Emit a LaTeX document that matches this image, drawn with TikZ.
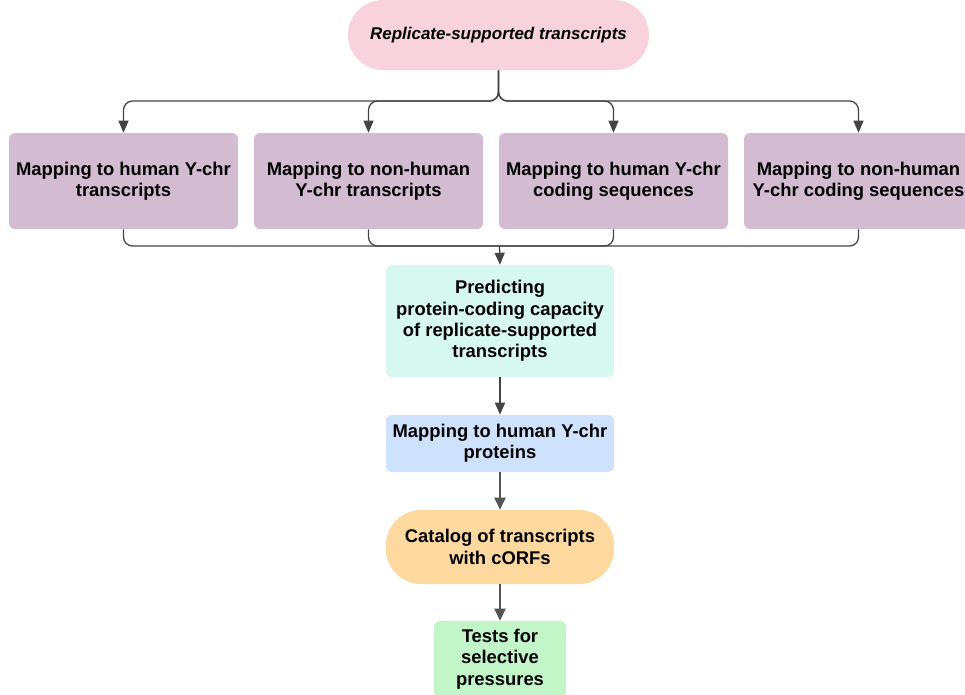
\documentclass[tikz,border=0pt]{standalone}
\usepackage{fontspec}
\setmainfont{Liberation Sans}
\usetikzlibrary{arrows.meta}
\definecolor{cpink}{RGB}{248,211,222}
\definecolor{cpurple}{RGB}{211,187,210}
\definecolor{cteal}{RGB}{214,248,241}
\definecolor{cblue}{RGB}{207,226,253}
\definecolor{corange}{RGB}{253,217,160}
\definecolor{cgreen}{RGB}{194,245,200}
\definecolor{carrow}{RGB}{68,68,68}
\definecolor{carrowb}{RGB}{85,85,85}
\tikzset{
  txt/.style={font=\fontsize{13.8pt}{16pt}\selectfont\bfseries, align=center, text=black, inner sep=0pt},
  mapbox/.style={txt, fill=cpurple, rounded corners={6*0.75pt}, minimum width={229*0.75pt}, minimum height={96*0.75pt}},
  flowbox/.style={txt, rounded corners={6*0.75pt}, minimum width={228*0.75pt}},
  stadium/.style={txt, rounded corners={35*0.75pt}},
  conn/.style={draw=carrow, line width={1.3*0.75pt}, rounded corners={9*0.75pt}},
  arr/.style={draw=carrow, line width={1.3*0.75pt}, -{Triangle[length={12*0.75pt}, width={10*0.75pt}]}},
  arrb/.style={draw=carrowb, line width={2*0.75pt}, -{Triangle[length={12*0.75pt}, width={11*0.75pt}]}},
}
\begin{document}
\begin{tikzpicture}[x=0.75pt,y=-0.75pt]
\useasboundingbox (0,0) rectangle (965,694);
\node[stadium, fill=cpink, minimum width={301*0.75pt}, minimum height={70*0.75pt}, font=\fontsize{12.75pt}{16pt}\selectfont\bfseries\itshape] (top) at (498.5,35) {Replicate-supported transcripts};
\node[mapbox] (b1) at (123.5,181) {Mapping to human Y-chr\\transcripts};
\node[mapbox] (b2) at (368.5,181) {Mapping to non-human\\Y-chr transcripts};
\node[mapbox] (b3) at (613.5,181) {Mapping to human Y-chr\\coding sequences};
\node[mapbox] (b4) at (858.5,181) {Mapping to non-human\\Y-chr coding sequences};
\node[flowbox, fill=cteal, minimum height={112*0.75pt}] (pred) at (500,321) {Predicting\\protein-coding capacity\\of replicate-supported\\transcripts};
\node[flowbox, fill=cblue, minimum height={57*0.75pt}] (prot) at (500,443.5) {Mapping to human Y-chr\\proteins};
\node[stadium, fill=corange, minimum width={228*0.75pt}, minimum height={74*0.75pt}] (cat) at (500,547) {Catalog of transcripts\\with cORFs};
\node[flowbox, fill=cgreen, minimum width={132*0.75pt}, minimum height={76*0.75pt}] (test) at (500,659) {Tests for\\selective\\pressures};
\coordinate (hub) at (498.5,101);
\coordinate (merge) at (499.5,246);
\foreach \b in {b1,b2,b3,b4}{
  \draw[conn, arr] (top.south) |- (hub) -| (\b.north);
  \draw[conn] (\b.south) |- (merge);
}
\draw[arr] (merge) -- (pred.north);
\draw[arr] (pred.south) -- (prot.north);
\draw[arrb] (prot.south) -- (cat.north);
\draw[arrb] (cat.south) -- (test.north);
\end{tikzpicture}
\end{document}
